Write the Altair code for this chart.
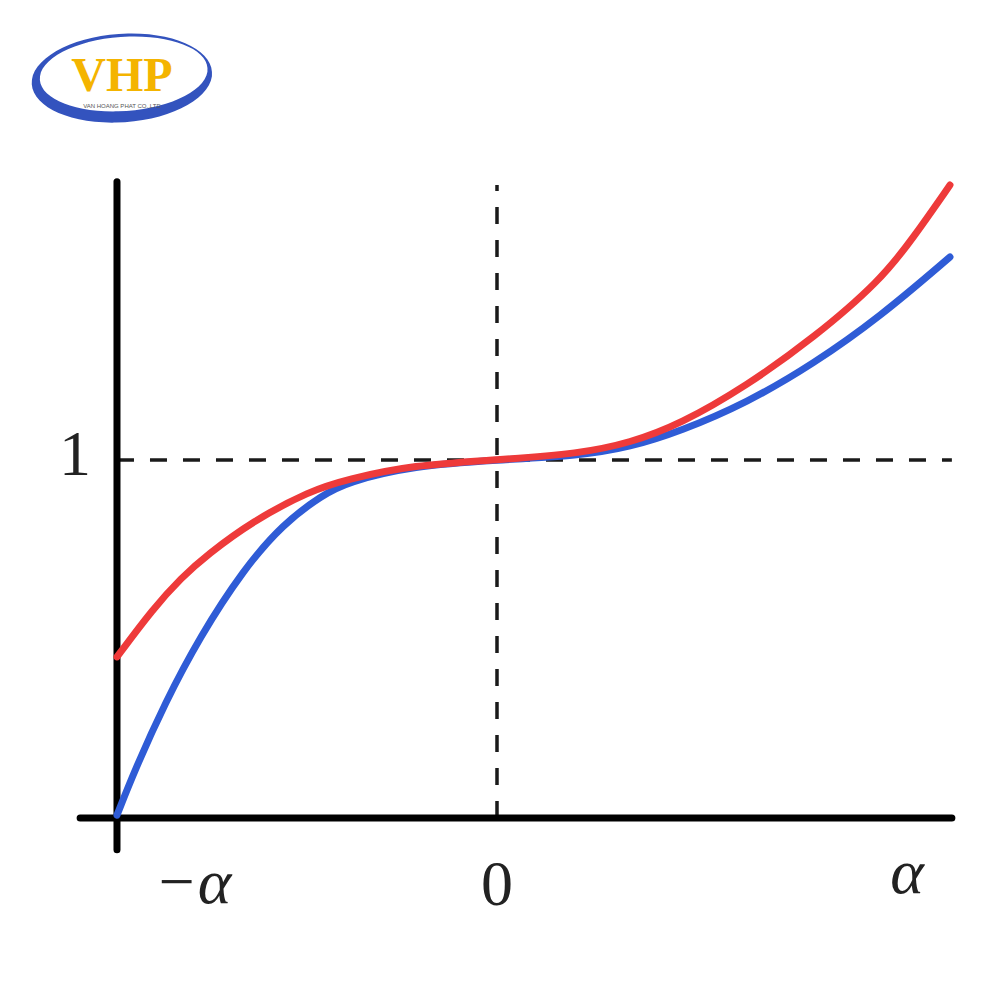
import altair as alt
import pandas as pd

# ---- data (x in units of alpha, y in units of "1") ----
blue_x = [-1.0, -0.953, -0.874, -0.782, -0.668, -0.563, -0.458, -0.395, -0.221, 0.0,
          0.218, 0.35, 0.482, 0.658, 0.832, 1.008, 1.192]
blue_y = [0.008, 0.134, 0.321, 0.506, 0.693, 0.822, 0.903, 0.938, 0.984, 1.0,
          1.012, 1.036, 1.080, 1.160, 1.268, 1.400, 1.567]

red_x = [-1.0, -0.905, -0.83, -0.763, -0.642, -0.492, -0.395, -0.221, 0.0,
         0.218, 0.35, 0.482, 0.658, 0.832, 1.008, 1.095, 1.192]
red_y = [0.450, 0.585, 0.672, 0.735, 0.830, 0.914, 0.946, 0.986, 1.0,
         1.018, 1.048, 1.100, 1.208, 1.340, 1.500, 1.620, 1.768]

# axis lines
axis_x = [-1.0, -1.097]
axis_x2 = [-1.0, 1.197]
axis_y = [-0.089, 0.0]
axis_y2 = [1.777, 0.0]

# dashed guides
guide_x = [0.0, -1.0]
guide_x2 = [0.0, 1.197]
guide_y = [0.0, 1.0]
guide_y2 = [1.768, 1.0]

# tick labels
lab_text = ["1", "0", "−α", "α"]
lab_x = [-1.1105, 0.0, -0.80, 1.079]
lab_y = [0.958, -0.243, -0.237, -0.209]
lab_style = ["normal", "normal", "italic", "italic"]

# logo
logo_x = [-0.987]
logo_y = [2.067]
logo_text = ["VHP"]
logo_text_y = [2.03]
logo_sub = ["VAN HOANG PHAT CO.,LTD"]
logo_sub_y = [1.982]

XD = [-1.2868, 1.3026]
YD = [-0.486, 2.2626]


def X(field="x"):
    return alt.X(f"{field}:Q", scale=alt.Scale(domain=XD, nice=False, zero=False), axis=None)


def Y(field="y"):
    return alt.Y(f"{field}:Q", scale=alt.Scale(domain=YD, nice=False, zero=False), axis=None)


blue_df = pd.DataFrame({"x": blue_x, "y": blue_y})
red_df = pd.DataFrame({"x": red_x, "y": red_y})
axis_df = pd.DataFrame({"x": axis_x, "x2": axis_x2, "y": axis_y, "y2": axis_y2})
guide_df = pd.DataFrame({"x": guide_x, "x2": guide_x2, "y": guide_y, "y2": guide_y2})
lab_df = pd.DataFrame({"x": lab_x, "y": lab_y, "t": lab_text, "s": lab_style})

guides = alt.Chart(guide_df).mark_rule(
    color="#1a1a1a", strokeWidth=3.5, strokeDash=[17, 16]
).encode(x=X(), x2="x2:Q", y=Y(), y2="y2:Q")

axes = alt.Chart(axis_df).mark_rule(
    color="#000000", strokeWidth=7, strokeCap="round"
).encode(x=X(), x2="x2:Q", y=Y(), y2="y2:Q")

blue = alt.Chart(blue_df).mark_line(
    color="#2F5CD6", strokeWidth=7, strokeCap="round", interpolate="basis"
).encode(x=X(), y=Y(), order="x:Q")

red = alt.Chart(red_df).mark_line(
    color="#EE3A3A", strokeWidth=7, strokeCap="round", interpolate="basis"
).encode(x=X(), y=Y(), order="x:Q")

labels_n = alt.Chart(lab_df[lab_df.s == "normal"]).mark_text(
    font="Liberation Serif", fontSize=64, color="#222222", baseline="alphabetic", align="center"
).encode(x=X(), y=Y(), text="t:N")

labels_i = alt.Chart(lab_df[lab_df.s == "italic"]).mark_text(
    font="Liberation Serif", fontSize=64, fontStyle="italic", color="#222222",
    baseline="alphabetic", align="center"
).encode(x=X(), y=Y(), text="t:N")

ellipse_path = (
    "M -1 0.02 A 1 0.49 -4 1 1 1 -0.02 A 1 0.49 -4 1 1 -1 0.02 Z "
    "M -0.91 -0.02 A 0.93 0.41 -4 1 0 0.95 -0.07 A 0.93 0.41 -4 1 0 -0.91 -0.02 Z"
)
logo_df = pd.DataFrame({"x": logo_x, "y": logo_y})
logo_ring = alt.Chart(logo_df).mark_point(
    shape=ellipse_path, size=180 * 180, filled=True, fill="#3353BE", strokeWidth=0, opacity=1
).encode(x=X(), y=Y())

logo_t = alt.Chart(pd.DataFrame({"x": logo_x, "y": logo_text_y, "t": logo_text})).mark_text(
    font="Liberation Serif", fontSize=48, fontWeight="bold", color="#F4B400",
    baseline="alphabetic", align="center"
).encode(x=X(), y=Y(), text="t:N")

logo_s = alt.Chart(pd.DataFrame({"x": logo_x, "y": logo_sub_y, "t": logo_sub})).mark_text(
    font="Liberation Sans", fontSize=6, color="#555555", baseline="alphabetic", align="center"
).encode(x=X(), y=Y(), text="t:N")

chart = alt.layer(
    guides, axes, blue, red, labels_n, labels_i, logo_ring, logo_t, logo_s
).properties(
    width=984, height=984, padding=0, autosize=alt.AutoSizeParams(type="none"),
    background="white"
).configure_view(stroke=None)

chart.save("out.html", embed_options={"renderer": "svg", "actions": False})
